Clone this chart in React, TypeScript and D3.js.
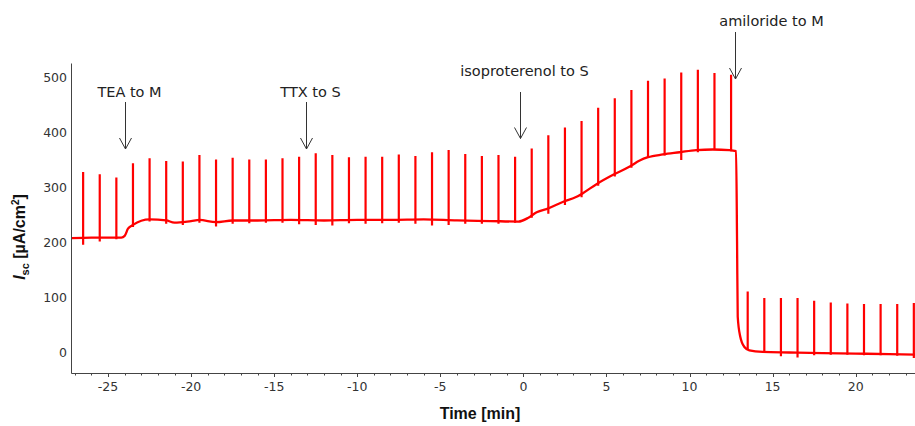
import { useEffect, useRef } from "react";
import * as d3 from "d3";

// baseline trace (time in min, Isc in µA/cm²)
const baseTime = [
  -27.2, -26, -24.2, -24.0, -23.8, -23.5, -22.5, -21.5, -21.0, -20.0, -19.5, -18.5, -17.5, -16, -14, -12, -10, -8,
  -6, -4, -2, -0.3, 0.3, 0.8, 1.5, 2.4, 3.2, 3.6, 4.4, 5.4, 6.4, 7.0, 7.5, 8.4, 9.4, 10.4, 11.4, 12.4, 12.8, 12.86,
  12.9, 13.05, 13.3, 13.6, 14.4, 16, 18, 20, 22, 23.6,
];
const baseValue = [
  208, 209, 209, 212, 225, 232, 242, 240, 236, 239, 241, 237, 240, 240, 241, 240, 241, 241,
  242, 240, 239, 238, 245, 255, 262, 274, 283, 290, 306, 323, 338, 349, 355, 360, 364, 368, 369, 368, 366, 200,
  65, 29, 10, 4, 1, 0, -1, -2, -3, -4,
];

// stimulation spikes
const spikeTime = [
  -26.5, -25.5, -24.5, -23.5, -22.5, -21.5, -20.5, -19.5, -18.5, -17.5, -16.5, -15.5, -14.5, -13.5, -12.5, -11.5, -10.5,
  -9.5, -8.5, -7.5, -6.5, -5.5, -4.5, -3.5, -2.5, -1.5, -0.5, 0.5, 1.5, 2.5, 3.5, 4.5, 5.5, 6.5, 7.5, 8.5, 9.5, 10.5,
  11.5, 12.5, 13.5, 14.5, 15.5, 16.5, 17.5, 18.5, 19.5, 20.5, 21.5, 22.5, 23.5,
];
const spikePeak = [
  328, 324, 318, 344, 353, 348, 347, 359, 351, 354, 351, 351, 353, 356, 362, 359, 355,
  356, 356, 360, 357, 364, 368, 361, 357, 359, 356, 371, 395, 409, 421, 445, 462, 477, 494, 498, 509, 514,
  508, 505, 111, 99, 99, 99, 94, 91, 89, 88, 88, 88, 90,
];
const spikeDip = [
  196, 202, 206, 228, 238, 234, 232, 236, 229, 234, 235, 236, 236, 233, 232, 231, 235,
  234, 235, 236, 234, 231, 232, 234, 234, 234, 236, 245, 252, 268, 282, 303, 320, 336, 354, 358, 350, 364,
  368, 366, 5, -1, -7, -9, -5, -4, -4, -5, -5, -6, -10,
];

const xTicks = [-25, -20, -15, -10, -5, 0, 5, 10, 15, 20];
const xMinor = [
  -27, -26, -24, -23, -22, -21, -19, -18, -17, -16, -14, -13, -12, -11, -9, -8, -7, -6, -4, -3, -2, -1,
  1, 2, 3, 4, 6, 7, 8, 9, 11, 12, 13, 14, 16, 17, 18, 19, 21, 22, 23,
];
const yTicks = [0, 100, 200, 300, 400, 500];

const noteLabel = ["TEA to M", "TTX to S", "isoproterenol to S", "amiloride to M"];
const noteTime = [-24.0, -13.1, -0.2, 12.75];

export default function App() {
  const svgRef = useRef<SVGSVGElement>(null);

  useEffect(() => {
    const W = 915;
    const H = 426;
    const left = 71.5;
    const top = 63.5;
    const bottom = 373.5;

    const svg = d3.select(svgRef.current).attr("width", W).attr("height", H);
    svg.selectAll("*").remove();

    const x = d3.scaleLinear().domain([-27.2, 23.6]).range([left, 915.5]);
    const y = d3.scaleLinear().domain([-38, 525]).range([373.4, 63.7]);

    svg
      .append("clipPath")
      .attr("id", "plot")
      .append("rect")
      .attr("x", left)
      .attr("y", top)
      .attr("width", W - left)
      .attr("height", bottom - top);

    const g = svg.append("g").attr("clip-path", "url(#plot)");

    // trace
    const line = d3
      .line<number>()
      .x((d) => x(baseTime[d]))
      .y((d) => y(baseValue[d]))
      .curve(d3.curveMonotoneX);
    g.append("path")
      .attr("d", line(d3.range(baseTime.length)))
      .attr("fill", "none")
      .attr("stroke", "#ff0000")
      .attr("stroke-width", 2.3)
      .attr("stroke-linejoin", "round");

    g.selectAll(".spike")
      .data(spikeTime)
      .join("line")
      .attr("x1", (d) => x(d))
      .attr("x2", (d) => x(d))
      .attr("y1", (_, i) => y(spikePeak[i]))
      .attr("y2", (_, i) => y(spikeDip[i]))
      .attr("stroke", "#ff0000")
      .attr("stroke-width", 2.2);

    // axes
    const axisColor = "#444";
    svg.append("line").attr("x1", left).attr("x2", left).attr("y1", top).attr("y2", bottom).attr("stroke", axisColor);
    svg.append("line").attr("x1", left).attr("x2", W).attr("y1", bottom).attr("y2", bottom).attr("stroke", axisColor);

    svg
      .selectAll(".xminor")
      .data(xMinor)
      .join("line")
      .attr("x1", (d) => Math.round(x(d)) + 0.5)
      .attr("x2", (d) => Math.round(x(d)) + 0.5)
      .attr("y1", bottom)
      .attr("y2", bottom + 2)
      .attr("stroke", axisColor);
    svg
      .selectAll(".xmajor")
      .data(xTicks)
      .join("line")
      .attr("x1", (d) => Math.round(x(d)) + 0.5)
      .attr("x2", (d) => Math.round(x(d)) + 0.5)
      .attr("y1", bottom)
      .attr("y2", bottom + 3.5)
      .attr("stroke", axisColor);

    svg
      .selectAll(".xlab")
      .data(xTicks)
      .join("text")
      .attr("x", (d) => x(d))
      .attr("y", 391)
      .attr("text-anchor", "middle")
      .attr("font-family", "DejaVu Sans")
      .attr("font-size", 12.5)
      .attr("fill", "#333")
      .text((d) => String(d));

    svg
      .selectAll(".ylab")
      .data(yTicks)
      .join("text")
      .attr("x", 67)
      .attr("y", (d) => y(d))
      .attr("dy", "0.36em")
      .attr("text-anchor", "end")
      .attr("font-family", "DejaVu Sans")
      .attr("font-size", 12.5)
      .attr("fill", "#333")
      .text((d) => String(d));

    // axis titles
    svg
      .append("text")
      .attr("x", 480)
      .attr("y", 419)
      .attr("text-anchor", "middle")
      .attr("font-family", "Liberation Sans, Arial, sans-serif")
      .attr("font-weight", "bold")
      .attr("font-size", 16)
      .attr("fill", "#111")
      .text("Time [min]");

    const yt = svg
      .append("text")
      .attr("transform", "translate(25,237) rotate(-90)")
      .attr("text-anchor", "middle")
      .attr("font-family", "Liberation Sans, Arial, sans-serif")
      .attr("font-weight", "bold")
      .attr("font-size", 16)
      .attr("fill", "#111");
    yt.append("tspan").attr("font-style", "italic").text("I");
    yt.append("tspan").attr("font-size", 11).attr("dy", 4).text("sc");
    yt.append("tspan").attr("dy", -4).text(" [µA/cm");
    yt.append("tspan").attr("font-size", 10).attr("dy", -6).text("2");
    yt.append("tspan").attr("dy", 6).text("]");

    // annotations
    const labelY = [97, 97, 76, 26];
    const arrowTop = [102, 102, 92, 32];
    const arrowTip = [149, 149, 138.5, 79];
    const labelDx = [4, 4, 4, 36];
    noteLabel.forEach((label, i) => {
      const ax = Math.round(x(noteTime[i])) + 0.5;
      svg
        .append("text")
        .attr("x", ax + labelDx[i])
        .attr("y", labelY[i])
        .attr("text-anchor", "middle")
        .attr("font-family", "DejaVu Sans")
        .attr("font-size", 14.5)
        .attr("fill", "#222")
        .text(label);
      svg
        .append("path")
        .attr("d", `M${ax},${arrowTop[i]}V${arrowTip[i]}M${ax - 6},${arrowTip[i] - 11}L${ax},${arrowTip[i]}L${ax + 6},${arrowTip[i] - 11}`)
        .attr("fill", "none")
        .attr("stroke", "#333")
        .attr("stroke-width", 1);
    });
  }, []);

  return <svg ref={svgRef} style={{ position: "absolute", left: 0, top: 0 }}></svg>;
}
